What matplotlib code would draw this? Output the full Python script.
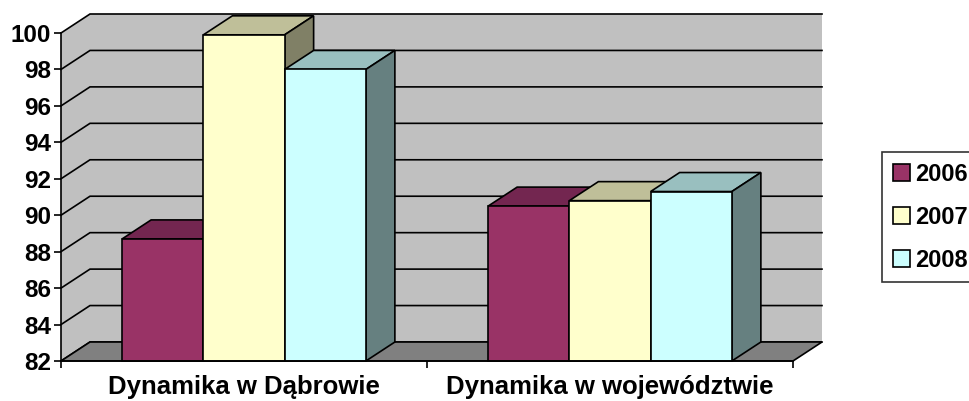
import matplotlib
matplotlib.use('Agg')
import matplotlib.pyplot as plt
from matplotlib.patches import Polygon, Patch

# data
categories = ['Dynamika w Dąbrowie', 'Dynamika w województwie']
years = ['2006', '2007', '2008']
values_2006 = [88.7, 90.5]
values_2007 = [99.9, 90.8]
values_2008 = [98.0, 91.3]
y_ticks = [82, 84, 86, 88, 90, 92, 94, 96, 98, 100]

front_colors = ['#993366', '#FFFFCC', '#CCFFFF']
top_colors = ['#732650', '#BFBF99', '#99BFBF']
side_colors = ['#4D1A33', '#808066', '#668080']

plt.rcParams['font.family'] = ['Liberation Sans', 'DejaVu Sans']
plt.rcParams['font.weight'] = 'bold'

fig = plt.figure(figsize=(9.7, 4.01), dpi=100)
ax = fig.add_axes([61 / 970, 40 / 401, 732 / 970, 328 / 401])
ymin, ymax = 82, 100
xmin, xmax = -0.5, 1.5
ax.set_xlim(xmin, xmax)
ax.set_ylim(ymin, ymax)

# depth offset of the 3D look, in data units
dx = 29 / 366
dy = 19 / (328 / 18)

lw = 1.2
# walls
ax.add_patch(Polygon([(xmin, ymin), (xmin + dx, ymin + dy), (xmin + dx, ymax + dy), (xmin, ymax)],
                     closed=True, fc='#C0C0C0', ec='none', clip_on=False, zorder=1))
ax.add_patch(Polygon([(xmin + dx, ymin + dy), (xmax + dx, ymin + dy), (xmax + dx, ymax + dy), (xmin + dx, ymax + dy)],
                     closed=True, fc='#C0C0C0', ec='none', clip_on=False, zorder=1))
# gridlines
for t in y_ticks:
    ax.plot([xmin, xmin + dx, xmax + dx], [t, t + dy, t + dy], color='black', lw=lw,
            clip_on=False, zorder=2, solid_joinstyle='miter')
# floor
ax.add_patch(Polygon([(xmin, ymin), (xmax, ymin), (xmax + dx, ymin + dy), (xmin + dx, ymin + dy)],
                     closed=True, fc='#808080', ec='black', lw=lw, clip_on=False, zorder=3))

# bars
series = [values_2006, values_2007, values_2008]
width = 0.222
z = 4
for ci in range(len(categories)):
    for si, vals in enumerate(series):
        v = vals[ci]
        x0 = ci + (si - 1.5) * width
        x1 = x0 + width
        ax.add_patch(Polygon([(x0, v), (x1, v), (x1 + dx, v + dy), (x0 + dx, v + dy)],
                             closed=True, fc=top_colors[si], ec='black', lw=lw, clip_on=False, zorder=z))
        ax.add_patch(Polygon([(x1, ymin), (x1 + dx, ymin + dy), (x1 + dx, v + dy), (x1, v)],
                             closed=True, fc=side_colors[si], ec='black', lw=lw, clip_on=False, zorder=z))
        ax.add_patch(Polygon([(x0, ymin), (x1, ymin), (x1, v), (x0, v)],
                             closed=True, fc=front_colors[si], ec='black', lw=lw, clip_on=False, zorder=z + 0.5))
        z += 1

# axes styling
ax.patch.set_visible(False)
for s in ['top', 'right']:
    ax.spines[s].set_visible(False)
for s in ['left', 'bottom']:
    ax.spines[s].set_linewidth(lw)
    ax.spines[s].set_zorder(20)
ax.set_yticks(y_ticks)
ax.set_yticklabels([str(t) for t in y_ticks])
ax.tick_params(axis='y', direction='out', length=5, width=lw, pad=2, labelsize=17.5)
ax.set_xticks([-0.5, 0.5, 1.5])
ax.set_xticklabels(['', '', ''])
ax.tick_params(axis='x', which='major', direction='out', length=5, width=lw)
ax.set_xticks([0, 1], minor=True)
ax.set_xticklabels(categories, minor=True)
ax.tick_params(axis='x', which='minor', length=0, pad=10, labelsize=18.5)

# legend
handles = [Patch(fc=c, ec='black', lw=lw) for c in front_colors]
leg = fig.legend(handles, years, loc='upper left', bbox_to_anchor=(882 / 970, 1 - 152 / 401),
                 borderaxespad=0, frameon=True, fancybox=False, fontsize=17,
                 handlelength=0.72, handleheight=0.72, handletextpad=0.25, labelspacing=0.85,
                 borderpad=0.45)
leg.get_frame().set_edgecolor('black')
leg.get_frame().set_linewidth(lw)

fig.savefig('out.png', dpi=100)
